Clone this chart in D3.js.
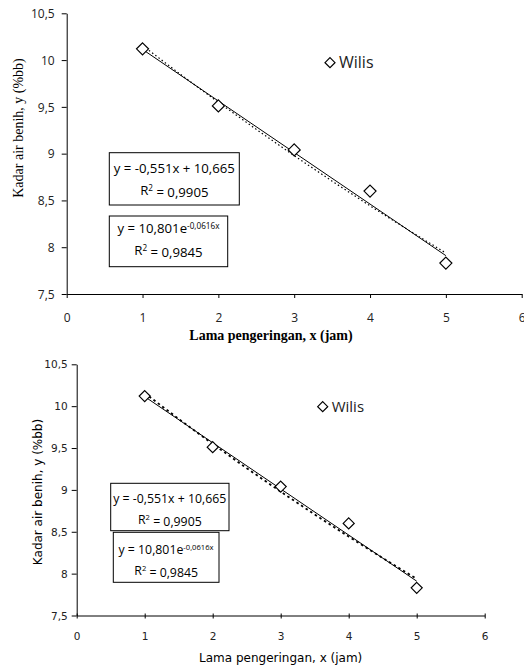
<!DOCTYPE html>
<html>
<meta charset="utf-8">
<title>Kadar air benih Wilis</title>
<script src="https://d3js.org/d3.v7.min.js" charset="utf-8"></script>
<style>
	body { margin: 0; background: #fff; }
	svg { display: block; }
	.domain, .tick line { stroke: #000; stroke-width: 1; }
</style>
<body>
<script>

	// values
	var hours = [1, 2, 3, 4, 5];
	var moisture = [10.12, 9.51, 9.04, 8.60, 7.83];
	var xTickValues = [0, 1, 2, 3, 4, 5, 6];
	var yTickValues = [7.5, 8, 8.5, 9, 9.5, 10, 10.5];
	var linearCoef = [-0.551, 10.665];   // slope, intercept
	var expCoef = [10.801, -0.0616];     // a, b of a*e^(b*x)
	var fitX = [1, 1.5, 2, 2.5, 3, 3.5, 4, 4.5, 5];
	var seriesName = "Wilis";
	var xTitle = "Lama pengeringan, x (jam)";
	var yTitle = "Kadar air benih, y (%bb)";
	var linearText = ["y = -0,551x + 10,665", "0,9905"];
	var expText = ["y = 10,801e", "-0,0616x", "0,9845"];

	var width = 524, height = 667;

	var panels = [
		{
			xr: [66.7, 521.7], yr: [294, 13.3],
			tickFont: "'Open Sans', sans-serif", tickSize: 12,
			xTickUp: 0, xTickDown: 4, xLabelY: 24, yLabelX: -12,
			titleFont: "'Liberation Serif', serif", titleSize: 14, titleWeight: "bold",
			xTitleX: 271, xTitleY: 335, yTitleX: 18, yTitleY: 128,
			dash: "1.5,2.5", dashWidth: 1.2, marker: 6,
			legend: {x: 330, y: 62.7, size: 16},
			boxFont: 13.2,
			box1: {x: 109.3, y: 152.7, w: 130, h: 52.3, l1: 168, l2: 190, cx: 174.3},
			box2: {x: 109.3, y: 216, w: 118.4, h: 50.7, l1: 228.5, l2: 250.5, cx: 168.5}
		},
		{
			xr: [76.7, 484.7], yr: [615.5, 364.3],
			tickFont: "'DejaVu Sans', sans-serif", tickSize: 10.5,
			xTickUp: 2, xTickDown: 3, xLabelY: 20.5, yLabelX: -9,
			titleFont: "'DejaVu Sans', sans-serif", titleSize: 12, titleWeight: "normal",
			xTitleX: 280.7, xTitleY: 658, yTitleX: 38, yTitleY: 492,
			dash: "2.5,3", dashWidth: 1.8, marker: 5.5,
			legend: {x: 322.7, y: 406.7, size: 15},
			boxFont: 12.3,
			box1: {x: 110.7, y: 483.3, w: 118.3, h: 47.4, l1: 498.3, l2: 519.3, cx: 169.8},
			box2: {x: 113.3, y: 532.3, w: 105.7, h: 50, l1: 550, l2: 570.5, cx: 166}
		}
	];

	var svg = d3.select("body").append("svg")
		.attr("width", width)
		.attr("height", height);

	function fmt(d) { return String(d).replace(".", ","); }

	function diamond(r) {
		return "M0," + (-r) + "L" + r + ",0L0," + r + "L" + (-r) + ",0Z";
	}

	panels.forEach(function(p) {
		var x = d3.scaleLinear().domain([0, 6]).range(p.xr);
		var y = d3.scaleLinear().domain([7.5, 10.5]).range(p.yr);
		var g = svg.append("g");

		/* axes */
		var xAxis = g.append("g")
			.attr("transform", "translate(0," + p.yr[0] + ")")
			.call(d3.axisBottom(x).tickValues(xTickValues).tickSizeOuter(0).tickFormat(fmt));
		xAxis.selectAll(".tick line").attr("y1", -p.xTickUp).attr("y2", p.xTickDown);
		xAxis.selectAll(".tick text")
			.attr("y", p.xLabelY).attr("dy", "0.35em")
			.style("font-family", p.tickFont).style("font-size", p.tickSize + "px").attr("fill", "#222");

		var yAxis = g.append("g")
			.attr("transform", "translate(" + p.xr[0] + ",0)")
			.call(d3.axisLeft(y).tickValues(yTickValues).tickSize(5).tickSizeOuter(0).tickFormat(fmt));
		yAxis.selectAll(".tick text")
			.attr("x", p.yLabelX).attr("dy", "0.35em")
			.style("font-family", p.tickFont).style("font-size", p.tickSize + "px").attr("fill", "#222");
		g.selectAll(".domain").attr("stroke", "#000");

		/* titles */
		g.append("text")
			.attr("x", p.xTitleX).attr("y", p.xTitleY).attr("dy", "0.35em")
			.attr("text-anchor", "middle")
			.style("font-family", p.titleFont).style("font-size", p.titleSize + "px")
			.style("font-weight", p.titleWeight)
			.text(xTitle);

		g.append("text")
			.attr("transform", "translate(" + p.yTitleX + "," + p.yTitleY + ")rotate(-90)")
			.attr("dy", "0.35em")
			.attr("text-anchor", "middle")
			.style("font-family", p.titleFont).style("font-size", p.titleSize + "px")
			.text(yTitle);

		/* trend lines */
		var line = d3.line().x(function(d) { return x(d[0]); }).y(function(d) { return y(d[1]); });

		g.append("path")
			.datum([1, 5].map(function(v) { return [v, linearCoef[0] * v + linearCoef[1]]; }))
			.attr("d", line)
			.attr("fill", "none").attr("stroke", "#000").attr("stroke-width", 1);

		g.append("path")
			.datum(fitX.map(function(v) { return [v, expCoef[0] * Math.exp(expCoef[1] * v)]; }))
			.attr("d", line)
			.attr("fill", "none").attr("stroke", "#000")
			.attr("stroke-width", p.dashWidth).attr("stroke-dasharray", p.dash);

		/* points */
		g.selectAll(".pt")
			.data(hours)
			.enter().append("path")
			.attr("class", "pt")
			.attr("transform", function(d, i) { return "translate(" + x(d) + "," + y(moisture[i]) + ")"; })
			.attr("d", diamond(p.marker))
			.attr("fill", "#fff").attr("stroke", "#000").attr("stroke-width", 1.2);

		/* legend */
		g.append("path")
			.attr("transform", "translate(" + p.legend.x + "," + p.legend.y + ")")
			.attr("d", diamond(5))
			.attr("fill", "#fff").attr("stroke", "#000").attr("stroke-width", 1.2);
		g.append("text")
			.attr("x", p.legend.x + 9).attr("y", p.legend.y).attr("dy", "0.35em")
			.style("font-family", "'Open Sans', sans-serif").style("font-size", p.legend.size + "px")
			.attr("fill", "#222")
			.text(seriesName);

		/* equation boxes */
		[p.box1, p.box2].forEach(function(b, k) {
			g.append("rect")
				.attr("x", b.x).attr("y", b.y).attr("width", b.w).attr("height", b.h)
				.attr("fill", "#fff").attr("stroke", "#000").attr("stroke-width", 1);

			var t1 = g.append("text")
				.attr("x", b.cx).attr("y", b.l1).attr("dy", "0.35em")
				.attr("text-anchor", "middle")
				.style("font-family", "'Open Sans', sans-serif").style("font-size", p.boxFont + "px");
			if (k === 0) {
				t1.text(linearText[0]);
			} else {
				t1.append("tspan").text(expText[0]);
				t1.append("tspan").attr("dy", "-0.5em").style("font-size", (p.boxFont * 0.62) + "px").text(expText[1]);
			}

			var t2 = g.append("text")
				.attr("x", b.x + b.w / 2).attr("y", b.l2).attr("dy", "0.35em")
				.attr("text-anchor", "middle")
				.style("font-family", "'Open Sans', sans-serif").style("font-size", p.boxFont + "px");
			t2.append("tspan").text("R");
			t2.append("tspan").attr("dy", "-0.45em").style("font-size", (p.boxFont * 0.62) + "px").text("2");
			t2.append("tspan").attr("dy", "0.45em").text(" = " + (k === 0 ? linearText[1] : expText[2]));
		});
	});

</script>
</body>
</html>
